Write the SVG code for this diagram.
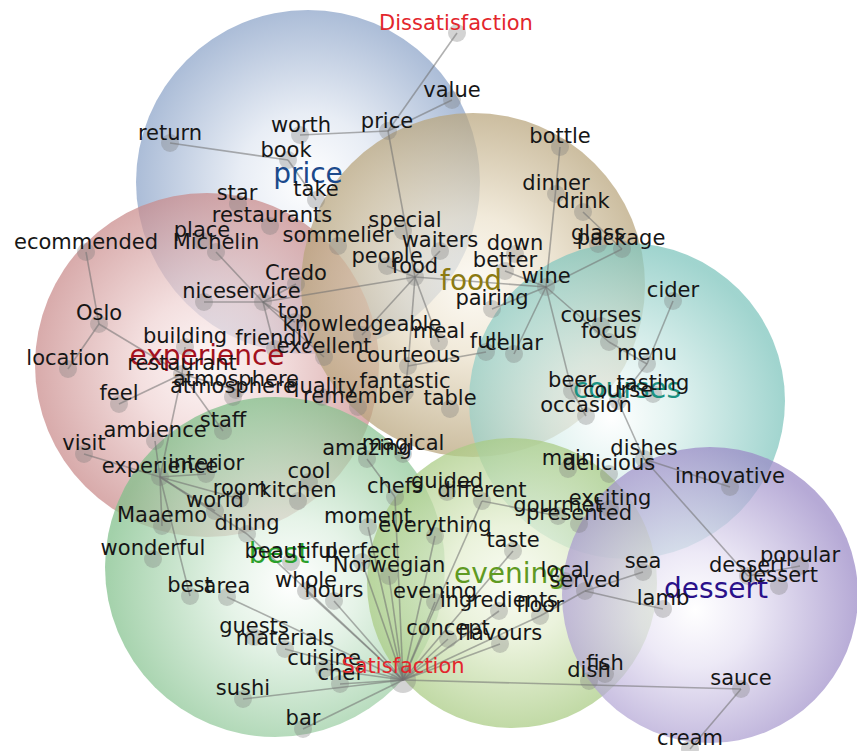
<svg xmlns="http://www.w3.org/2000/svg" width="857" height="751" viewBox="0 0 857 751">
<defs>
<radialGradient id="gBlue" cx="50%" cy="50%" r="50%"><stop offset="0" stop-color="#ffffff"/><stop offset="0.4" stop-color="#dfe6f1"/><stop offset="1" stop-color="#8ba3c8"/></radialGradient>
<radialGradient id="gRed" cx="50%" cy="50%" r="50%"><stop offset="0" stop-color="#fdf3f3"/><stop offset="0.4" stop-color="#efd3d3"/><stop offset="1" stop-color="#c98a8a"/></radialGradient>
<radialGradient id="gTan" cx="50%" cy="50%" r="50%"><stop offset="0" stop-color="#fbf8f0"/><stop offset="0.4" stop-color="#ece2cc"/><stop offset="1" stop-color="#b8a47b"/></radialGradient>
<radialGradient id="gTeal" cx="45%" cy="55%" r="55%"><stop offset="0" stop-color="#ffffff"/><stop offset="0.35" stop-color="#d9efec"/><stop offset="1" stop-color="#7cc4bc"/></radialGradient>
<radialGradient id="gGreen" cx="55%" cy="55%" r="55%"><stop offset="0" stop-color="#ffffff"/><stop offset="0.35" stop-color="#dcefdf"/><stop offset="1" stop-color="#7fbf89"/></radialGradient>
<radialGradient id="gLGreen" cx="50%" cy="50%" r="50%"><stop offset="0" stop-color="#f7faee"/><stop offset="0.4" stop-color="#e3eecf"/><stop offset="1" stop-color="#a9cb83"/></radialGradient>
<radialGradient id="gPurple" cx="45%" cy="55%" r="55%"><stop offset="0" stop-color="#ffffff"/><stop offset="0.35" stop-color="#e6e1f3"/><stop offset="1" stop-color="#9a89c6"/></radialGradient>
</defs>
<style>
.ci{fill-opacity:0.72}
.e line{stroke:#6f6f6f;stroke-opacity:0.55;stroke-width:1.6}
.d{fill:#7a7a7a;fill-opacity:0.33}
text{font-family:"DejaVu Sans","Liberation Sans",sans-serif;text-anchor:middle}
.t{font-size:21px;fill:#161616}
.r{font-size:21px;fill:#e3262c}
.c{font-size:28px}
</style>
<rect width="857" height="751" fill="#ffffff"/>
<g id="circles">
<circle id="c-price" class="ci" cx="308" cy="182" r="172" fill="url(#gBlue)"/>
<circle id="c-experience" class="ci" cx="207" cy="365" r="172" fill="url(#gRed)"/>
<circle id="c-food" class="ci" cx="473" cy="285" r="172" fill="url(#gTan)"/>
<circle id="c-courses" class="ci" cx="627" cy="401" r="158" fill="url(#gTeal)"/>
<circle id="c-best" class="ci" cx="275" cy="567" r="170" fill="url(#gGreen)"/>
<circle id="c-evening" class="ci" cx="512" cy="583" r="145" fill="url(#gLGreen)"/>
<circle id="c-dessert" class="ci" cx="710" cy="595" r="148" fill="url(#gPurple)"/>
</g>
<g id="connectors" class="e">
<line x1="170" y1="143" x2="288" y2="160"/>
<line x1="288" y1="160" x2="316" y2="200"/>
<line x1="300" y1="135" x2="388" y2="131"/>
<line x1="388" y1="131" x2="452" y2="100"/>
<line x1="388" y1="131" x2="457" y2="33"/>
<line x1="388" y1="131" x2="415" y2="277"/>
<line x1="216" y1="252" x2="263" y2="302"/>
<line x1="204" y1="302" x2="263" y2="302"/>
<line x1="263" y1="302" x2="296" y2="284"/>
<line x1="263" y1="302" x2="295" y2="322"/>
<line x1="263" y1="302" x2="275" y2="349"/>
<line x1="263" y1="302" x2="324" y2="357"/>
<line x1="263" y1="302" x2="415" y2="277"/>
<line x1="415" y1="277" x2="440" y2="251"/>
<line x1="415" y1="277" x2="387" y2="266"/>
<line x1="415" y1="277" x2="362" y2="335"/>
<line x1="415" y1="277" x2="439" y2="342"/>
<line x1="415" y1="277" x2="408" y2="366"/>
<line x1="415" y1="277" x2="546" y2="287"/>
<line x1="408" y1="366" x2="405" y2="392"/>
<line x1="408" y1="366" x2="486" y2="352"/>
<line x1="546" y1="287" x2="560" y2="147"/>
<line x1="546" y1="287" x2="622" y2="249"/>
<line x1="546" y1="287" x2="609" y2="342"/>
<line x1="546" y1="287" x2="514" y2="354"/>
<line x1="546" y1="287" x2="572" y2="391"/>
<line x1="546" y1="287" x2="492" y2="309"/>
<line x1="546" y1="287" x2="505" y2="271"/>
<line x1="583" y1="212" x2="622" y2="249"/>
<line x1="673" y1="301" x2="647" y2="364"/>
<line x1="609" y1="342" x2="647" y2="364"/>
<line x1="647" y1="364" x2="618" y2="401"/>
<line x1="618" y1="401" x2="644" y2="459"/>
<line x1="572" y1="391" x2="586" y2="416"/>
<line x1="644" y1="459" x2="730" y2="487"/>
<line x1="644" y1="459" x2="748" y2="576"/>
<line x1="748" y1="576" x2="800" y2="566"/>
<line x1="86" y1="252" x2="99" y2="324"/>
<line x1="99" y1="324" x2="68" y2="369"/>
<line x1="99" y1="324" x2="182" y2="374"/>
<line x1="182" y1="374" x2="185" y2="347"/>
<line x1="182" y1="374" x2="119" y2="404"/>
<line x1="182" y1="374" x2="236" y2="390"/>
<line x1="182" y1="374" x2="223" y2="431"/>
<line x1="182" y1="374" x2="160" y2="477"/>
<line x1="84" y1="454" x2="160" y2="477"/>
<line x1="155" y1="441" x2="160" y2="477"/>
<line x1="160" y1="477" x2="206" y2="474"/>
<line x1="160" y1="477" x2="240" y2="499"/>
<line x1="160" y1="477" x2="215" y2="511"/>
<line x1="160" y1="477" x2="162" y2="526"/>
<line x1="160" y1="477" x2="190" y2="596"/>
<line x1="160" y1="477" x2="247" y2="534"/>
<line x1="247" y1="534" x2="403" y2="680"/>
<line x1="227" y1="597" x2="403" y2="680"/>
<line x1="243" y1="699" x2="403" y2="680"/>
<line x1="303" y1="729" x2="403" y2="680"/>
<line x1="340" y1="684" x2="403" y2="680"/>
<line x1="324" y1="669" x2="403" y2="680"/>
<line x1="285" y1="649" x2="403" y2="680"/>
<line x1="306" y1="591" x2="403" y2="680"/>
<line x1="334" y1="601" x2="403" y2="680"/>
<line x1="389" y1="576" x2="403" y2="680"/>
<line x1="362" y1="562" x2="403" y2="680"/>
<line x1="368" y1="527" x2="403" y2="680"/>
<line x1="395" y1="497" x2="403" y2="680"/>
<line x1="435" y1="536" x2="403" y2="680"/>
<line x1="435" y1="602" x2="403" y2="680"/>
<line x1="448" y1="639" x2="403" y2="680"/>
<line x1="499" y1="611" x2="403" y2="680"/>
<line x1="500" y1="644" x2="403" y2="680"/>
<line x1="540" y1="616" x2="403" y2="680"/>
<line x1="513" y1="551" x2="403" y2="680"/>
<line x1="482" y1="501" x2="403" y2="680"/>
<line x1="403" y1="680" x2="741" y2="689"/>
<line x1="741" y1="689" x2="690" y2="749"/>
<line x1="367" y1="459" x2="395" y2="497"/>
<line x1="540" y1="616" x2="585" y2="591"/>
<line x1="585" y1="591" x2="643" y2="572"/>
<line x1="585" y1="591" x2="663" y2="609"/>
<line x1="482" y1="501" x2="558" y2="516"/>
</g>
<g id="dots">
<circle class="d" cx="457" cy="33" r="9"/><circle class="d" cx="452" cy="100" r="9"/><circle class="d" cx="388" cy="131" r="9"/><circle class="d" cx="300" cy="135" r="9"/><circle class="d" cx="170" cy="143" r="9"/><circle class="d" cx="288" cy="160" r="9"/><circle class="d" cx="316" cy="200" r="9"/><circle class="d" cx="238" cy="204" r="9"/><circle class="d" cx="270" cy="226" r="9"/><circle class="d" cx="202" cy="241" r="9"/><circle class="d" cx="216" cy="252" r="9"/><circle class="d" cx="86" cy="252" r="9"/><circle class="d" cx="338" cy="246" r="9"/><circle class="d" cx="403" cy="231" r="9"/><circle class="d" cx="440" cy="251" r="9"/><circle class="d" cx="515" cy="254" r="9"/><circle class="d" cx="387" cy="266" r="9"/><circle class="d" cx="415" cy="277" r="9"/><circle class="d" cx="505" cy="271" r="9"/><circle class="d" cx="296" cy="284" r="9"/><circle class="d" cx="263" cy="302" r="9"/><circle class="d" cx="204" cy="302" r="9"/><circle class="d" cx="546" cy="287" r="9"/><circle class="d" cx="492" cy="309" r="9"/><circle class="d" cx="598" cy="244" r="9"/><circle class="d" cx="622" cy="249" r="9"/><circle class="d" cx="583" cy="212" r="9"/><circle class="d" cx="556" cy="194" r="9"/><circle class="d" cx="560" cy="147" r="9"/><circle class="d" cx="673" cy="301" r="9"/><circle class="d" cx="601" cy="326" r="9"/><circle class="d" cx="609" cy="342" r="9"/><circle class="d" cx="647" cy="364" r="9"/><circle class="d" cx="486" cy="352" r="9"/><circle class="d" cx="514" cy="354" r="9"/><circle class="d" cx="439" cy="342" r="9"/><circle class="d" cx="362" cy="335" r="9"/><circle class="d" cx="295" cy="322" r="9"/><circle class="d" cx="275" cy="349" r="9"/><circle class="d" cx="324" cy="357" r="9"/><circle class="d" cx="408" cy="366" r="9"/><circle class="d" cx="185" cy="347" r="9"/><circle class="d" cx="99" cy="324" r="9"/><circle class="d" cx="68" cy="369" r="9"/><circle class="d" cx="182" cy="374" r="9"/><circle class="d" cx="236" cy="390" r="9"/><circle class="d" cx="233" cy="397" r="9"/><circle class="d" cx="322" cy="397" r="9"/><circle class="d" cx="358" cy="407" r="9"/><circle class="d" cx="405" cy="392" r="9"/><circle class="d" cx="450" cy="409" r="9"/><circle class="d" cx="119" cy="404" r="9"/><circle class="d" cx="223" cy="431" r="9"/><circle class="d" cx="155" cy="441" r="9"/><circle class="d" cx="84" cy="454" r="9"/><circle class="d" cx="160" cy="477" r="9"/><circle class="d" cx="206" cy="474" r="9"/><circle class="d" cx="309" cy="482" r="9"/><circle class="d" cx="240" cy="499" r="9"/><circle class="d" cx="298" cy="501" r="9"/><circle class="d" cx="215" cy="511" r="9"/><circle class="d" cx="162" cy="526" r="9"/><circle class="d" cx="247" cy="534" r="9"/><circle class="d" cx="153" cy="559" r="9"/><circle class="d" cx="291" cy="562" r="9"/><circle class="d" cx="362" cy="562" r="9"/><circle class="d" cx="389" cy="576" r="9"/><circle class="d" cx="306" cy="591" r="9"/><circle class="d" cx="334" cy="601" r="9"/><circle class="d" cx="190" cy="596" r="9"/><circle class="d" cx="227" cy="597" r="9"/><circle class="d" cx="254" cy="637" r="9"/><circle class="d" cx="285" cy="649" r="9"/><circle class="d" cx="324" cy="669" r="9"/><circle class="d" cx="340" cy="684" r="9"/><circle class="d" cx="403" cy="680" r="13"/><circle class="d" cx="243" cy="699" r="9"/><circle class="d" cx="303" cy="729" r="9"/><circle class="d" cx="435" cy="602" r="9"/><circle class="d" cx="499" cy="611" r="9"/><circle class="d" cx="540" cy="616" r="9"/><circle class="d" cx="448" cy="639" r="9"/><circle class="d" cx="500" cy="644" r="9"/><circle class="d" cx="565" cy="581" r="9"/><circle class="d" cx="585" cy="591" r="9"/><circle class="d" cx="643" cy="572" r="9"/><circle class="d" cx="663" cy="609" r="9"/><circle class="d" cx="748" cy="576" r="9"/><circle class="d" cx="779" cy="586" r="9"/><circle class="d" cx="800" cy="566" r="9"/><circle class="d" cx="730" cy="487" r="9"/><circle class="d" cx="644" cy="459" r="9"/><circle class="d" cx="609" cy="474" r="9"/><circle class="d" cx="568" cy="469" r="9"/><circle class="d" cx="610" cy="509" r="9"/><circle class="d" cx="558" cy="516" r="9"/><circle class="d" cx="579" cy="524" r="9"/><circle class="d" cx="482" cy="501" r="9"/><circle class="d" cx="447" cy="492" r="9"/><circle class="d" cx="395" cy="497" r="9"/><circle class="d" cx="368" cy="527" r="9"/><circle class="d" cx="435" cy="536" r="9"/><circle class="d" cx="513" cy="551" r="9"/><circle class="d" cx="403" cy="454" r="9"/><circle class="d" cx="367" cy="459" r="9"/><circle class="d" cx="572" cy="391" r="9"/><circle class="d" cx="653" cy="394" r="9"/><circle class="d" cx="618" cy="401" r="9"/><circle class="d" cx="586" cy="416" r="9"/><circle class="d" cx="605" cy="674" r="9"/><circle class="d" cx="589" cy="681" r="9"/><circle class="d" cx="741" cy="689" r="9"/><circle class="d" cx="690" cy="749" r="9"/>
</g>
<g id="categories">
<text class="c" x="308" y="183" fill="#1c4a8c">price</text>
<text class="c" x="471" y="290" fill="#8c7a12">food</text>
<text class="c" x="207" y="365" fill="#a3121e">experience</text>
<text class="c" x="627" y="398" fill="#1b9282">courses</text>
<text class="c" x="279" y="563" fill="#2aa02c">best</text>
<text class="c" x="510" y="583" fill="#5f9a22">evening</text>
<text class="c" x="716" y="598" fill="#2a118a">dessert</text>
</g>
<g id="nodes">
<g id="n-dissatisfaction"><text class="r" x="456" y="30">Dissatisfaction</text></g>
<g id="n-value"><text class="t" x="452" y="97">value</text></g>
<g id="n-price"><text class="t" x="387" y="128">price</text></g>
<g id="n-worth"><text class="t" x="301" y="132">worth</text></g>
<g id="n-return"><text class="t" x="170" y="140">return</text></g>
<g id="n-book"><text class="t" x="286" y="157">book</text></g>
<g id="n-take"><text class="t" x="316" y="196">take</text></g>
<g id="n-star"><text class="t" x="237" y="200">star</text></g>
<g id="n-restaurants"><text class="t" x="272" y="222">restaurants</text></g>
<g id="n-place"><text class="t" x="202" y="237">place</text></g>
<g id="n-michelin"><text class="t" x="216" y="249">Michelin</text></g>
<g id="n-ecommended"><text class="t" x="86" y="249">ecommended</text></g>
<g id="n-sommelier"><text class="t" x="338" y="242">sommelier</text></g>
<g id="n-special"><text class="t" x="405" y="227">special</text></g>
<g id="n-waiters"><text class="t" x="440" y="247">waiters</text></g>
<g id="n-down"><text class="t" x="515" y="250">down</text></g>
<g id="n-people"><text class="t" x="387" y="263">people</text></g>
<g id="n-food"><text class="t" x="415" y="273">food</text></g>
<g id="n-better"><text class="t" x="505" y="267">better</text></g>
<g id="n-credo"><text class="t" x="296" y="280">Credo</text></g>
<g id="n-nice"><text class="t" x="204" y="298">nice</text></g>
<g id="n-service"><text class="t" x="263" y="298">service</text></g>
<g id="n-wine"><text class="t" x="546" y="283">wine</text></g>
<g id="n-pairing"><text class="t" x="492" y="305">pairing</text></g>
<g id="n-glass"><text class="t" x="598" y="240">glass</text></g>
<g id="n-package"><text class="t" x="621" y="245">package</text></g>
<g id="n-drink"><text class="t" x="583" y="208">drink</text></g>
<g id="n-dinner"><text class="t" x="556" y="190">dinner</text></g>
<g id="n-bottle"><text class="t" x="560" y="143">bottle</text></g>
<g id="n-cider"><text class="t" x="673" y="297">cider</text></g>
<g id="n-courses"><text class="t" x="601" y="322">courses</text></g>
<g id="n-focus"><text class="t" x="609" y="338">focus</text></g>
<g id="n-menu"><text class="t" x="647" y="360">menu</text></g>
<g id="n-full"><text class="t" x="486" y="348">full</text></g>
<g id="n-cellar"><text class="t" x="514" y="350">cellar</text></g>
<g id="n-meal"><text class="t" x="439" y="338">meal</text></g>
<g id="n-top"><text class="t" x="295" y="318">top</text></g>
<g id="n-knowledgeable"><text class="t" x="362" y="331">knowledgeable</text></g>
<g id="n-friendly"><text class="t" x="275" y="345">friendly</text></g>
<g id="n-excellent"><text class="t" x="324" y="353">excellent</text></g>
<g id="n-courteous"><text class="t" x="408" y="362">courteous</text></g>
<g id="n-building"><text class="t" x="185" y="343">building</text></g>
<g id="n-oslo"><text class="t" x="99" y="320">Oslo</text></g>
<g id="n-location"><text class="t" x="68" y="365">location</text></g>
<g id="n-restaurant"><text class="t" x="182" y="370">restaurant</text></g>
<g id="n-atmosphere1"><text class="t" x="236" y="386">atmosphere</text></g>
<g id="n-atmosphere2"><text class="t" x="233" y="393">atmosphere</text></g>
<g id="n-quality"><text class="t" x="322" y="393">quality</text></g>
<g id="n-remember"><text class="t" x="358" y="403">remember</text></g>
<g id="n-fantastic"><text class="t" x="405" y="388">fantastic</text></g>
<g id="n-table"><text class="t" x="450" y="405">table</text></g>
<g id="n-feel"><text class="t" x="119" y="400">feel</text></g>
<g id="n-staff"><text class="t" x="223" y="427">staff</text></g>
<g id="n-ambience"><text class="t" x="155" y="437">ambience</text></g>
<g id="n-visit"><text class="t" x="84" y="450">visit</text></g>
<g id="n-experience"><text class="t" x="160" y="473">experience</text></g>
<g id="n-interior"><text class="t" x="206" y="470">interior</text></g>
<g id="n-cool"><text class="t" x="309" y="478">cool</text></g>
<g id="n-room"><text class="t" x="240" y="495">room</text></g>
<g id="n-kitchen"><text class="t" x="298" y="497">kitchen</text></g>
<g id="n-world"><text class="t" x="215" y="507">world</text></g>
<g id="n-maaemo"><text class="t" x="162" y="522">Maaemo</text></g>
<g id="n-dining"><text class="t" x="247" y="530">dining</text></g>
<g id="n-wonderful"><text class="t" x="153" y="555">wonderful</text></g>
<g id="n-beautiful"><text class="t" x="291" y="558">beautiful</text></g>
<g id="n-perfect"><text class="t" x="362" y="558">perfect</text></g>
<g id="n-norwegian"><text class="t" x="389" y="572">Norwegian</text></g>
<g id="n-whole"><text class="t" x="306" y="587">whole</text></g>
<g id="n-hours"><text class="t" x="334" y="597">hours</text></g>
<g id="n-best"><text class="t" x="190" y="592">best</text></g>
<g id="n-area"><text class="t" x="227" y="593">area</text></g>
<g id="n-guests"><text class="t" x="254" y="633">guests</text></g>
<g id="n-materials"><text class="t" x="285" y="645">materials</text></g>
<g id="n-cuisine"><text class="t" x="324" y="665">cuisine</text></g>
<g id="n-chef"><text class="t" x="340" y="680">chef</text></g>
<g id="n-satisfaction"><text class="r" x="403" y="673">Satisfaction</text></g>
<g id="n-sushi"><text class="t" x="243" y="695">sushi</text></g>
<g id="n-bar"><text class="t" x="303" y="725">bar</text></g>
<g id="n-evening"><text class="t" x="435" y="598">evening</text></g>
<g id="n-ingredients"><text class="t" x="499" y="607">ingredients</text></g>
<g id="n-floor"><text class="t" x="540" y="612">floor</text></g>
<g id="n-concept"><text class="t" x="448" y="635">concept</text></g>
<g id="n-flavours"><text class="t" x="500" y="640">flavours</text></g>
<g id="n-local"><text class="t" x="565" y="577">local</text></g>
<g id="n-served"><text class="t" x="585" y="587">served</text></g>
<g id="n-sea"><text class="t" x="643" y="568">sea</text></g>
<g id="n-lamb"><text class="t" x="663" y="605">lamb</text></g>
<g id="n-dessert1"><text class="t" x="748" y="572">dessert</text></g>
<g id="n-popular"><text class="t" x="800" y="562">popular</text></g>
<g id="n-dessert2"><text class="t" x="779" y="582">dessert</text></g>
<g id="n-innovative"><text class="t" x="730" y="483">innovative</text></g>
<g id="n-dishes"><text class="t" x="644" y="455">dishes</text></g>
<g id="n-main"><text class="t" x="568" y="465">main</text></g>
<g id="n-delicious"><text class="t" x="609" y="470">delicious</text></g>
<g id="n-exciting"><text class="t" x="610" y="505">exciting</text></g>
<g id="n-gourmet"><text class="t" x="558" y="512">gourmet</text></g>
<g id="n-presented"><text class="t" x="579" y="520">presented</text></g>
<g id="n-different"><text class="t" x="482" y="497">different</text></g>
<g id="n-guided"><text class="t" x="447" y="488">guided</text></g>
<g id="n-chefs"><text class="t" x="395" y="493">chefs</text></g>
<g id="n-moment"><text class="t" x="368" y="523">moment</text></g>
<g id="n-everything"><text class="t" x="435" y="532">everything</text></g>
<g id="n-taste"><text class="t" x="513" y="547">taste</text></g>
<g id="n-magical"><text class="t" x="403" y="450">magical</text></g>
<g id="n-amazing"><text class="t" x="367" y="455">amazing</text></g>
<g id="n-beer"><text class="t" x="572" y="387">beer</text></g>
<g id="n-tasting"><text class="t" x="653" y="390">tasting</text></g>
<g id="n-course"><text class="t" x="618" y="397">course</text></g>
<g id="n-occasion"><text class="t" x="586" y="412">occasion</text></g>
<g id="n-fish"><text class="t" x="605" y="670">fish</text></g>
<g id="n-dish"><text class="t" x="589" y="677">dish</text></g>
<g id="n-sauce"><text class="t" x="741" y="685">sauce</text></g>
<g id="n-cream"><text class="t" x="690" y="745">cream</text></g>
</g>
</svg>
